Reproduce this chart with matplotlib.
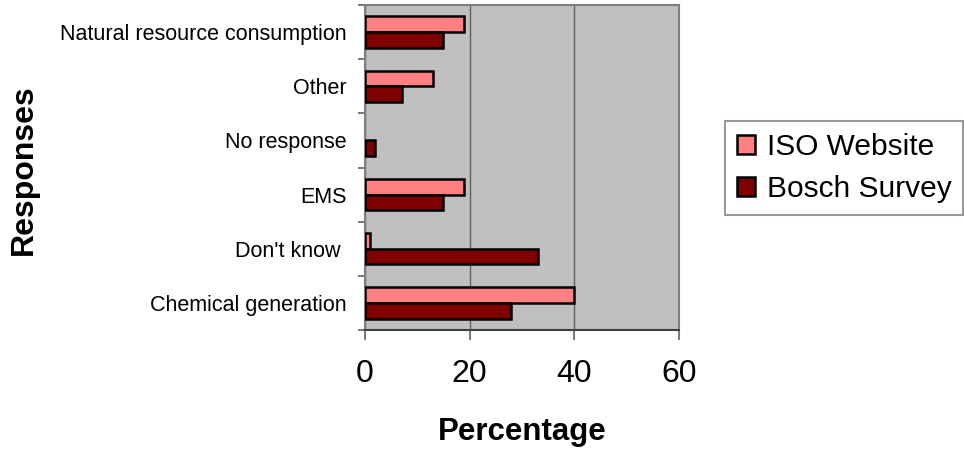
import matplotlib.pyplot as plt
import numpy as np

plt.rcParams['font.family'] = ['Liberation Sans', 'DejaVu Sans']

# categories listed from top to bottom as in the chart
responses = ["Natural resource consumption", "Other", "No response", "EMS", "Don't know ", "Chemical generation"]
iso_website = [19, 13, 0, 19, 1, 40]
bosch_survey = [15, 7, 2, 15, 33, 28]
x_ticks = [0, 20, 40, 60]

fig = plt.figure(figsize=(9.64, 4.51), dpi=100)
ax = fig.add_axes([0.3786, 0.2683, 0.3257, 0.7206])
ax.set_facecolor('#C0C0C0')

pos = np.arange(len(responses))
bar_h = 0.29
# zero-length bars get no outline, so nothing shows up for them
iso_lw = [1.8 if v > 0 else 0 for v in iso_website]
bosch_lw = [1.8 if v > 0 else 0 for v in bosch_survey]
ax.barh(pos - bar_h / 2, iso_website, height=bar_h, color='#FF8080', edgecolor='black', linewidth=iso_lw, label='ISO Website', zorder=3)
ax.barh(pos + bar_h / 2, bosch_survey, height=bar_h, color='#800000', edgecolor='black', linewidth=bosch_lw, label='Bosch Survey', zorder=3)

ax.set_xlim(0, 60)
ax.set_ylim(len(responses) - 0.5, -0.5)
ax.set_xticks(x_ticks)
ax.set_xticklabels([str(t) for t in x_ticks], fontsize=23)
ax.tick_params(axis='x', direction='out', length=7, width=1.2, color='#606060', pad=14)

# labels at category centres, tick marks at boundaries
ax.set_yticks(pos)
ax.set_yticklabels(responses, fontsize=15.5)
ax.tick_params(axis='y', which='major', length=0, pad=13)
ax.set_yticks(np.arange(len(responses) + 1) - 0.5, minor=True)
ax.tick_params(axis='y', which='minor', direction='out', length=5, width=1.2, color='#606060')

ax.grid(axis='x', color='#606060', linewidth=1.0, zorder=1)
for side in ['top', 'right', 'left']:
    ax.spines[side].set_color('#808080')
    ax.spines[side].set_linewidth(1.5)
ax.spines['bottom'].set_color('#404040')
ax.spines['bottom'].set_linewidth(1.5)

ax.set_xlabel('Percentage', fontsize=22.5, fontweight='bold', labelpad=20)
fig.text(0.025, 0.623, 'Responses', fontsize=23, fontweight='bold', rotation=90, ha='center', va='center')

leg = fig.legend(loc='center', bbox_to_anchor=(0.8755, 0.6275), fontsize=21.5, frameon=True, fancybox=False,
                 handlelength=0.6, handleheight=0.6, handletextpad=0.4, labelspacing=0.45, borderpad=0.4)
leg.get_frame().set_edgecolor('#808080')
leg.get_frame().set_linewidth(1.5)

fig.savefig('out.png', dpi=100)
